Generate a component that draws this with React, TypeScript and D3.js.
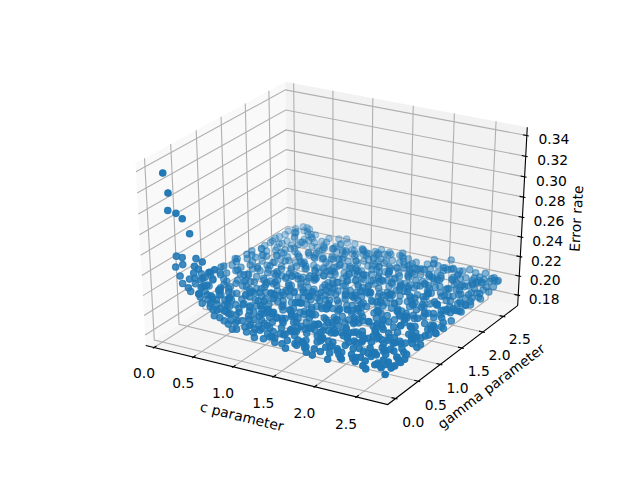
import React from "react";
import * as d3 from "d3";

const width = 640;
const height = 480;

// axis ranges and ticks
const cLim = [-0.047, 2.81];
const gammaLim = [-0.109, 2.796];
const errorLim = [0.1727, 0.3444];
const cTicks = [0, 0.5, 1, 1.5, 2, 2.5];
const gammaTicks = [0, 0.5, 1, 1.5, 2, 2.5];
const errorTicks = [0.18, 0.2, 0.22, 0.24, 0.26, 0.28, 0.3, 0.32, 0.34];

const cValues = [
  .01,.083,.07,.17,.246,.33,.151,.224,.136,.227,.397,.474,.373,.421,.551,.624,.187,.215,.305,.361,.373,.474,.285,.414,.523,2.7,
  .62,.71,.86,1.0,1.12,1.27,1.36,1.52,1.61,1.75,1.88,2.02,2.15,2.31,2.47,2.63,
  .55,.78,.93,1.08,1.2,1.31,1.46,1.58,1.7,1.83,1.97,2.11,2.26,2.38,2.55,2.71,
  .48,.68,.83,.97,1.15,1.24,1.41,1.66,1.79,1.92,2.05,2.2,2.34,2.49,2.62,2.74,
  .34,.52,.66,.9,1.04,1.17,1.33,1.49,1.63,1.8,1.95,2.09,2.28,2.43,2.58,2.74,
  .28,.44,.6,.75,.94,1.11,1.29,1.43,1.57,1.74,1.9,2.0,2.18,2.36,2.52,2.69,
  .22,.39,.57,.81,.99,1.07,1.22,1.39,1.6,1.77,1.86,2.07,2.23,2.41,2.56,2.75,
  .18,.33,.5,.7,.85,1.03,1.19,1.37,1.54,1.68,1.85,2.03,2.17,2.33,2.6,2.72,
  .24,.42,.63,.74,.92,1.13,1.26,1.45,1.62,1.72,1.93,2.12,2.29,2.44,2.53,2.67,
  .15,.36,.54,.69,.88,.98,1.21,1.34,1.51,1.76,1.89,1.99,2.19,2.39,2.51,2.75,
  .2,.31,.47,.72,.8,1.01,1.16,1.3,1.48,1.65,1.82,2.04,2.24,2.35,2.57,2.7,
  .13,.4,.59,.67,.89,1.09,1.25,1.42,1.55,1.71,1.87,2.08,2.21,2.46,2.61,2.75,
  .26,.38,.49,.77,.96,1.06,1.23,1.35,1.59,1.78,1.94,2.1,2.27,2.37,2.54,2.68,
  .17,.29,.56,.73,.84,1.02,1.18,1.4,1.53,1.69,1.84,1.98,2.16,2.42,2.59,2.73,
  .21,.45,.61,.79,.95,1.14,1.28,1.44,1.64,1.73,1.91,2.06,2.25,2.4,2.5,2.66,
  .14,.35,.53,.65,.87,1.05,1.2,1.32,1.47,1.67,1.81,2.01,2.14,2.32,2.56,2.76,
  .25,.41,.58,.76,.91,1.1,1.27,1.38,1.56,1.75,1.96,2.13,2.3,2.45,2.63,2.71,
  .16,.3,.46,.71,.82,1.0,1.15,1.36,1.5,1.66,1.83,2.05,2.2,2.34,2.55,2.74,
  .23,.37,.6,.68,.93,1.08,1.24,1.41,1.58,1.79,1.92,2.02,2.22,2.47,2.62,2.69,
  .12,.43,.55,.78,.86,1.04,1.17,1.33,1.52,1.7,1.88,2.09,2.26,2.38,2.58,2.76,
  .27,.34,.51,.66,.97,1.12,1.29,1.46,1.61,1.74,1.86,2.0,2.18,2.36,2.49,2.72,
  .19,.39,.62,.75,.9,1.01,1.22,1.39,1.54,1.68,1.93,2.07,2.28,2.43,2.6,2.67,
  .15,.32,.48,.7,.83,1.06,1.19,1.31,1.49,1.77,1.85,2.11,2.23,2.41,2.52,2.75,
  .22,.44,.57,.74,.94,1.13,1.26,1.43,1.63,1.72,1.9,2.03,2.17,2.35,2.61,2.7,
  .13,.36,.52,.69,.81,.99,1.16,1.37,1.55,1.65,1.82,1.97,2.15,2.33,2.53,2.75,
  .24,.4,.64,.77,.92,1.07,1.3,1.42,1.59,1.76,1.95,2.12,2.29,2.46,2.57,2.68,
  .18,.28,.5,.72,.88,1.03,1.21,1.35,1.48,1.71,1.87,2.04,2.24,2.39,2.64,2.73,
  .2,.42,.59,.67,.85,1.11,1.25,1.45,1.6,1.78,1.89,2.08,2.19,2.31,2.51,2.75,
  .14,.33,.47,.79,.96,1.09,1.18,1.38,1.51,1.69,1.84,2.01,2.21,2.44,2.59,2.66,
  .26,.38,.56,.73,.89,1.02,1.28,1.44,1.57,1.73,1.94,2.1,2.27,2.37,2.55,2.74,
  .16,.31,.61,.68,.84,1.14,1.23,1.34,1.53,1.67,1.83,2.06,2.16,2.42,2.63,2.71,
  .21,.45,.53,.76,.98,1.05,1.2,1.4,1.62,1.8,1.91,1.99,2.25,2.48,2.5,2.69,
  .12,.35,.49,.71,.87,1.0,1.15,1.32,1.47,1.75,1.81,2.13,2.3,2.34,2.56,2.76,
  .23,.41,.58,.8,.93,1.1,1.27,1.46,1.56,1.66,1.92,2.05,2.2,2.45,2.6,2.72,
  .17,.29,.54,.65,.82,1.04,1.24,1.36,1.64,1.79,1.88,2.02,2.14,2.38,2.54,2.65,
  .25,.37,.6,.74,.91,1.12,1.17,1.41,1.5,1.7,1.96,2.09,2.28,2.4,2.62,2.76,
  .13,.43,.51,.69,.86,1.07,1.29,1.33,1.58,1.74,1.85,2.0,2.23,2.32,2.52,2.7,
  .19,.34,.63,.78,.95,1.01,1.19,1.43,1.6,1.68,1.9,2.11,2.18,2.47,2.58,2.75,
  .15,.39,.46,.72,.83,1.13,1.22,1.37,1.54,1.77,1.83,2.03,2.26,2.36,2.49,2.67,
  .22,.3,.55,.66,.9,1.06,1.26,1.42,1.52,1.71,1.93,2.07,2.15,2.43,2.64,2.73,
  .18,.32,.57,.75,.88,.97,1.16,1.3,1.49,1.64,1.86,2.04,2.24,2.35,2.51,2.69,
  // second pass over the denser parts of the cloud
  .3,.38,.46,.52,.6,.67,.76,.9,1.06,1.22,1.43,1.56,1.84,2.14,2.43,2.57,
  .26,.35,.43,.5,.58,.7,.83,.95,1.1,1.3,1.48,1.69,1.9,2.07,2.29,2.52,
  .32,.4,.55,.63,.77,.88,1.02,1.16,1.35,1.44,1.6,1.78,2.01,2.22,2.4,2.66,
  .2,.47,.62,.74,.85,1.0,1.13,1.25,1.39,1.54,1.73,1.87,2.1,2.32,2.48,2.7,
  .28,.42,.56,.69,.8,.96,1.09,1.24,1.46,1.58,1.7,1.94,2.13,2.27,2.45,2.61,
  .18,.36,.51,.65,.78,.93,1.05,1.2,1.38,1.52,1.67,1.82,1.98,2.19,2.37,2.55,
  .24,.33,.48,.72,.86,1.01,1.18,1.28,1.42,1.62,1.76,1.91,2.05,2.24,2.42,2.64,
  .16,.41,.59,.68,.82,.92,1.12,1.34,1.5,1.65,1.8,1.96,2.16,2.3,2.5,2.72,
  .3,.44,.53,.75,.89,1.04,1.15,1.31,1.44,1.57,1.72,1.89,2.08,2.21,2.39,2.59,
  .21,.37,.64,.71,.84,.97,1.11,1.27,1.41,1.61,1.79,1.93,2.12,2.33,2.54,2.68,
  .14,.34,.49,.6,.79,.91,1.08,1.22,1.36,1.55,1.68,1.85,2.03,2.18,2.44,2.62,
  .27,.39,.57,.73,.87,1.03,1.17,1.33,1.47,1.63,1.77,1.95,2.09,2.28,2.46,2.71,
  .19,.46,.61,.66,.81,.99,1.14,1.26,1.4,1.59,1.74,1.88,2.04,2.25,2.36,2.56,
  .25,.31,.52,.7,.9,1.02,1.19,1.35,1.49,1.6,1.81,1.99,2.17,2.31,2.53,2.65,
  .17,.4,.54,.77,.83,.94,1.1,1.23,1.45,1.64,1.71,1.86,2.06,2.23,2.41,2.74,
  .29,.36,.6,.67,.86,1.06,1.21,1.3,1.43,1.56,1.75,1.92,2.11,2.35,2.47,2.6,
  .15,.43,.5,.74,.92,1.0,1.16,1.37,1.51,1.66,1.84,1.97,2.14,2.26,2.49,2.69,
  .23,.33,.58,.69,.8,.98,1.12,1.29,1.42,1.58,1.78,1.9,2.02,2.2,2.38,2.63,
  .13,.38,.47,.72,.88,1.05,1.2,1.34,1.53,1.62,1.73,1.94,2.1,2.29,2.51,2.73,
  .26,.45,.56,.65,.85,.95,1.13,1.25,1.39,1.57,1.69,1.83,2.01,2.19,2.43,2.58,
  .2,.35,.62,.76,.9,1.07,1.24,1.32,1.46,1.61,1.8,1.98,2.15,2.34,2.55,2.67,
  .16,.42,.53,.68,.82,.96,1.09,1.28,1.44,1.54,1.76,1.87,2.05,2.27,2.44,2.61,
  .28,.31,.59,.71,.87,1.03,1.15,1.31,1.48,1.65,1.79,1.93,2.12,2.3,2.48,2.7,
  .22,.37,.5,.75,.84,.99,1.18,1.36,1.5,1.6,1.72,1.89,2.08,2.24,2.4,2.64,
];

const gammaValues = [
  .15,.12,.12,.12,.12,.12,.12,.12,.12,.12,.12,.12,.12,.12,.12,.12,.12,.12,.12,.12,.12,.12,.12,.12,.12,.08,
  .09,.14,.06,.12,.08,.15,.1,.05,.13,.09,.16,.07,.11,.14,.08,.12,
  .18,.11,.2,.16,.22,.13,.19,.21,.17,.12,.2,.15,.18,.23,.13,.19,
  .24,.28,.21,.26,.19,.27,.23,.18,.25,.29,.22,.26,.2,.27,.24,.21,
  .36,.31,.27,.34,.3,.37,.26,.33,.29,.35,.28,.32,.37,.3,.26,.34,
  .4,.35,.43,.32,.38,.42,.36,.31,.41,.34,.39,.44,.33,.37,.42,.35,
  .47,.42,.38,.5,.44,.37,.49,.41,.46,.39,.51,.43,.48,.38,.45,.41,
  .54,.49,.57,.46,.52,.44,.55,.48,.43,.56,.5,.47,.53,.58,.45,.51,
  .6,.55,.51,.63,.58,.53,.62,.5,.57,.61,.52,.64,.56,.49,.6,.54,
  .67,.61,.57,.7,.64,.59,.71,.56,.66,.62,.69,.58,.65,.72,.6,.68,
  .74,.68,.63,.77,.7,.65,.75,.69,.62,.73,.66,.78,.71,.64,.76,.67,
  .81,.74,.7,.84,.77,.71,.82,.75,.69,.8,.73,.85,.78,.72,.83,.76,
  .87,.81,.76,.9,.84,.78,.88,.83,.75,.86,.79,.91,.82,.77,.89,.8,
  .94,.88,.83,.97,.9,.85,.95,.82,.91,.86,.96,.89,.84,.93,.87,.98,
  1.01,.95,.89,1.04,.97,.91,1.02,.96,.88,1.0,.93,1.05,.98,.9,1.03,.94,
  1.07,1.01,.96,1.11,1.04,.98,1.09,.95,1.06,1.0,1.1,.97,1.05,1.12,.99,1.08,
  1.14,1.08,1.03,1.17,1.1,1.05,1.16,1.02,1.12,1.07,1.18,1.04,1.13,1.09,1.15,1.06,
  1.21,1.15,1.1,1.24,1.17,1.12,1.22,1.09,1.19,1.14,1.25,1.11,1.2,1.16,1.23,1.13,
  1.28,1.21,1.16,1.31,1.24,1.18,1.29,1.15,1.26,1.2,1.32,1.17,1.27,1.22,1.3,1.19,
  1.34,1.28,1.23,1.38,1.3,1.25,1.36,1.22,1.33,1.27,1.39,1.24,1.35,1.29,1.37,1.26,
  1.41,1.35,1.3,1.44,1.37,1.32,1.43,1.29,1.39,1.34,1.45,1.31,1.4,1.36,1.42,1.33,
  1.48,1.42,1.36,1.51,1.44,1.38,1.49,1.35,1.46,1.41,1.52,1.37,1.47,1.43,1.5,1.39,
  1.54,1.48,1.43,1.58,1.5,1.45,1.56,1.42,1.53,1.47,1.59,1.44,1.55,1.49,1.57,1.46,
  1.61,1.55,1.5,1.64,1.57,1.52,1.63,1.49,1.59,1.54,1.65,1.51,1.6,1.56,1.62,1.53,
  1.68,1.62,1.56,1.71,1.64,1.58,1.69,1.55,1.66,1.61,1.72,1.57,1.67,1.63,1.7,1.59,
  1.74,1.68,1.63,1.78,1.7,1.65,1.76,1.62,1.73,1.67,1.79,1.64,1.75,1.69,1.77,1.66,
  1.81,1.75,1.7,1.84,1.77,1.72,1.83,1.69,1.79,1.74,1.85,1.71,1.8,1.76,1.82,1.73,
  1.88,1.82,1.76,1.91,1.84,1.78,1.89,1.75,1.86,1.81,1.92,1.77,1.87,1.83,1.9,1.79,
  1.94,1.88,1.83,1.98,1.9,1.85,1.96,1.82,1.93,1.87,1.99,1.84,1.95,1.89,1.97,1.86,
  2.01,1.95,1.9,2.04,1.97,1.92,2.03,1.89,1.99,1.94,2.05,1.91,2.0,1.96,2.02,1.93,
  2.08,2.02,1.96,2.11,2.04,1.98,2.09,1.95,2.06,2.01,2.12,1.97,2.07,2.03,2.1,1.99,
  2.14,2.08,2.03,2.18,2.1,2.05,2.16,2.02,2.13,2.07,2.19,2.04,2.15,2.09,2.17,2.06,
  2.21,2.15,2.1,2.24,2.17,2.12,2.23,2.09,2.19,2.14,2.25,2.11,2.2,2.16,2.22,2.13,
  2.28,2.22,2.16,2.31,2.24,2.18,2.29,2.15,2.26,2.21,2.32,2.17,2.27,2.23,2.3,2.19,
  2.34,2.28,2.23,2.38,2.3,2.25,2.36,2.22,2.33,2.27,2.39,2.24,2.35,2.29,2.37,2.26,
  2.41,2.35,2.3,2.44,2.37,2.32,2.43,2.29,2.39,2.34,2.45,2.31,2.4,2.36,2.42,2.33,
  2.48,2.42,2.36,2.51,2.44,2.38,2.49,2.35,2.46,2.41,2.52,2.37,2.47,2.43,2.5,2.39,
  2.54,2.48,2.43,2.58,2.5,2.45,2.56,2.42,2.53,2.47,2.59,2.44,2.55,2.49,2.57,2.46,
  2.61,2.55,2.5,2.64,2.57,2.52,2.63,2.49,2.59,2.54,2.65,2.51,2.6,2.56,2.62,2.53,
  2.68,2.62,2.56,2.71,2.64,2.58,2.69,2.55,2.66,2.61,2.72,2.57,2.67,2.63,2.7,2.59,
  2.73,2.67,2.64,2.75,2.69,2.72,2.66,2.74,2.7,2.65,2.76,2.68,2.72,2.67,2.74,2.7,
  .14,.2,.11,.17,.24,.12,.19,.08,.16,.1,.13,.18,.06,.15,.09,.17,
  .3,.22,.27,.33,.21,.29,.18,.26,.23,.2,.31,.16,.24,.28,.19,.25,
  .38,.31,.42,.28,.35,.24,.4,.33,.3,.37,.26,.34,.29,.39,.32,.22,
  .52,.44,.36,.48,.41,.55,.33,.46,.39,.5,.43,.35,.53,.4,.47,.37,
  .62,.54,.49,.58,.66,.45,.6,.52,.42,.57,.48,.64,.44,.56,.5,.61,
  .73,.64,.58,.78,.55,.69,.6,.72,.52,.67,.62,.57,.75,.51,.65,.7,
  .84,.76,.68,.9,.72,.63,.8,.87,.66,.74,.6,.82,.69,.78,.64,.86,
  .98,.88,.79,.93,.71,1.02,.84,.75,.95,.82,.9,.73,.87,1.0,.77,.92,
  1.1,1.0,.9,1.05,.85,1.14,.94,1.08,.82,.97,1.12,.88,1.03,.91,1.07,.86,
  1.22,1.11,1.03,1.17,.96,1.08,1.26,.93,1.14,1.01,1.2,.98,1.09,1.24,1.05,1.16,
  1.35,1.24,1.13,1.29,1.07,1.19,1.38,1.1,1.27,1.16,1.33,1.04,1.21,1.3,1.12,1.25,
  1.46,1.37,1.26,1.4,1.2,1.32,1.5,1.23,1.43,1.29,1.18,1.35,1.48,1.27,1.41,1.31,
  1.58,1.48,1.39,1.53,1.33,1.44,1.62,1.36,1.56,1.41,1.3,1.47,1.6,1.38,1.51,1.42,
  1.7,1.6,1.5,1.66,1.44,1.57,1.73,1.47,1.63,1.53,1.42,1.59,1.72,1.49,1.65,1.54,
  1.82,1.71,1.63,1.77,1.56,1.69,1.85,1.6,1.74,1.66,1.54,1.72,1.83,1.61,1.76,1.67,
  1.93,1.84,1.74,1.89,1.68,1.8,1.97,1.72,1.87,1.77,1.66,1.83,1.95,1.73,1.88,1.79,
  2.05,1.95,1.86,2.0,1.8,1.92,2.08,1.83,1.98,1.89,1.78,1.94,2.07,1.85,2.0,1.91,
  2.17,2.07,1.98,2.12,1.92,2.03,2.2,1.95,2.1,2.0,1.9,2.06,2.18,1.97,2.11,2.02,
  2.28,2.19,2.1,2.24,2.03,2.15,2.32,2.07,2.21,2.12,2.02,2.17,2.3,2.09,2.23,2.14,
  2.4,2.3,2.21,2.35,2.15,2.27,2.44,2.18,2.33,2.24,2.13,2.29,2.42,2.2,2.34,2.26,
  2.5,2.42,2.33,2.47,2.27,2.38,2.54,2.3,2.44,2.35,2.25,2.41,2.52,2.32,2.46,2.37,
  2.6,2.52,2.44,2.57,2.38,2.49,2.64,2.41,2.55,2.46,2.36,2.51,2.62,2.43,2.56,2.48,
  2.7,2.62,2.55,2.67,2.48,2.6,2.74,2.52,2.65,2.57,2.47,2.61,2.71,2.54,2.66,2.58,
  2.75,2.68,2.6,2.73,2.56,2.66,2.77,2.59,2.7,2.63,2.55,2.69,2.74,2.61,2.72,2.64,
];

const errorValues = [
  .332,.315,.298,.297,.293,.280,.255,.255,.244,.248,.257,.255,.249,.247,.246,.250,.236,.229,.235,.242,.237,.239,.226,.222,.233,.187,
  .205,.2,.197,.195,.193,.194,.192,.191,.193,.19,.191,.189,.192,.19,.188,.191,
  .207,.199,.196,.198,.194,.196,.193,.195,.192,.194,.19,.193,.191,.189,.192,.19,
  .21,.202,.2,.197,.199,.195,.197,.194,.196,.192,.195,.191,.193,.196,.19,.192,
  .216,.208,.204,.199,.196,.2,.195,.198,.193,.197,.194,.196,.192,.195,.193,.191,
  .218,.21,.203,.201,.198,.202,.197,.199,.195,.198,.193,.2,.194,.197,.192,.195,
  .214,.209,.206,.2,.203,.197,.201,.196,.199,.194,.198,.195,.2,.193,.197,.192,
  .219,.207,.205,.202,.199,.204,.196,.2,.198,.195,.201,.197,.194,.199,.196,.193,
  .212,.208,.203,.2,.205,.198,.202,.197,.2,.194,.199,.196,.201,.195,.198,.193,
  .217,.21,.204,.206,.199,.202,.197,.203,.195,.2,.196,.198,.194,.201,.197,.195,
  .213,.206,.209,.201,.204,.198,.2,.196,.202,.197,.199,.194,.2,.196,.193,.198,
  .215,.208,.202,.205,.2,.203,.197,.201,.195,.199,.196,.202,.194,.198,.2,.195,
  .211,.207,.204,.199,.202,.197,.204,.198,.2,.195,.201,.196,.199,.194,.197,.2,
  .214,.209,.201,.203,.206,.199,.201,.197,.203,.196,.198,.2,.195,.202,.194,.197,
  .212,.205,.204,.2,.198,.202,.196,.2,.197,.203,.195,.199,.201,.196,.198,.194,
  .216,.207,.203,.205,.2,.198,.203,.197,.201,.195,.2,.197,.199,.194,.202,.196,
  .211,.206,.202,.199,.204,.197,.201,.205,.196,.2,.198,.194,.203,.197,.195,.2,
  .213,.208,.205,.201,.198,.203,.199,.196,.202,.197,.2,.204,.195,.199,.197,.194,
  .21,.207,.2,.204,.199,.197,.202,.198,.196,.203,.195,.2,.198,.201,.194,.197,
  .215,.204,.206,.198,.202,.2,.197,.203,.199,.195,.201,.196,.198,.2,.203,.195,
  .209,.208,.201,.204,.197,.2,.198,.195,.203,.199,.196,.202,.197,.194,.2,.198,
  .212,.205,.199,.203,.2,.206,.196,.201,.198,.202,.197,.199,.203,.195,.198,.2,
  .214,.206,.204,.2,.202,.197,.199,.204,.196,.198,.201,.195,.2,.197,.204,.196,
  .21,.207,.203,.199,.205,.198,.202,.196,.2,.203,.197,.199,.195,.202,.198,.201,
  .213,.204,.202,.206,.199,.201,.197,.203,.198,.2,.196,.204,.199,.197,.195,.202,
  .209,.206,.2,.203,.198,.205,.2,.197,.202,.199,.196,.198,.203,.2,.197,.199,
  .212,.208,.203,.2,.197,.202,.199,.204,.196,.201,.198,.205,.197,.199,.2,.196,
  .208,.205,.201,.204,.2,.197,.203,.198,.2,.196,.202,.199,.197,.204,.198,.201,
  .211,.206,.204,.198,.2,.203,.197,.201,.199,.204,.197,.2,.198,.202,.196,.199,
  .209,.207,.202,.205,.199,.201,.198,.2,.203,.197,.199,.196,.204,.198,.201,.197,
  .212,.204,.2,.203,.197,.199,.202,.205,.198,.2,.196,.203,.199,.197,.2,.198,
  .208,.206,.203,.201,.199,.204,.197,.2,.202,.198,.205,.197,.2,.203,.196,.199,
  .21,.205,.201,.198,.203,.2,.204,.197,.199,.202,.198,.2,.196,.199,.204,.197,
  .207,.208,.204,.2,.202,.197,.199,.203,.2,.196,.201,.198,.204,.197,.199,.2,
  .211,.204,.202,.205,.198,.201,.203,.199,.197,.2,.204,.196,.198,.202,.2,.197,
  .208,.206,.2,.203,.199,.197,.204,.201,.198,.203,.197,.2,.199,.196,.202,.198,
  .21,.207,.204,.2,.202,.205,.198,.2,.203,.197,.199,.201,.197,.204,.198,.2,
  .207,.205,.202,.198,.204,.2,.197,.203,.199,.201,.198,.2,.204,.197,.2,.199,
  .209,.206,.203,.201,.199,.203,.2,.198,.205,.197,.2,.199,.202,.198,.196,.201,
  .206,.208,.2,.204,.198,.202,.199,.206,.197,.201,.198,.203,.2,.197,.199,.2,
  .208,.204,.205,.2,.203,.198,.201,.2,.204,.197,.202,.199,.198,.203,.2,.197,
  .222,.216,.214,.21,.207,.203,.2,.197,.194,.193,.191,.192,.19,.189,.19,.191,
  .224,.218,.212,.211,.206,.202,.199,.196,.195,.192,.194,.191,.193,.19,.192,.189,
  .22,.215,.209,.204,.203,.2,.198,.195,.193,.196,.192,.194,.19,.193,.191,.194,
  .226,.212,.207,.206,.199,.201,.197,.198,.194,.197,.193,.195,.192,.19,.194,.192,
  .219,.213,.208,.203,.2,.199,.196,.2,.198,.193,.196,.192,.197,.195,.191,.193,
  .221,.211,.205,.207,.202,.198,.2,.195,.199,.194,.197,.195,.193,.196,.192,.194,
  .216,.21,.206,.201,.204,.197,.2,.197,.195,.199,.193,.198,.194,.192,.197,.195,
  .218,.209,.204,.203,.199,.202,.196,.199,.201,.194,.197,.193,.199,.196,.193,.198,
  .214,.208,.207,.2,.203,.198,.201,.196,.198,.202,.195,.199,.194,.197,.2,.194,
  .217,.21,.203,.205,.199,.2,.197,.202,.196,.199,.194,.2,.196,.198,.193,.197,
  .215,.206,.204,.202,.198,.203,.196,.2,.197,.195,.201,.194,.198,.2,.195,.196,
  .211,.209,.201,.204,.199,.197,.202,.198,.2,.196,.199,.203,.195,.197,.199,.194,
  .213,.206,.205,.2,.202,.198,.2,.203,.197,.199,.196,.2,.198,.194,.201,.197,
  .21,.208,.202,.199,.197,.204,.198,.2,.196,.202,.199,.195,.2,.198,.196,.203,
  .212,.205,.203,.206,.2,.198,.201,.197,.2,.196,.203,.198,.195,.2,.197,.199,
  .209,.207,.2,.203,.198,.205,.199,.197,.202,.199,.196,.201,.204,.197,.198,.195,
  .211,.204,.204,.199,.201,.197,.203,.2,.198,.204,.197,.199,.196,.202,.199,.197,
  .208,.206,.201,.205,.198,.2,.197,.202,.199,.197,.203,.196,.2,.198,.201,.199,
  .21,.205,.203,.2,.204,.199,.202,.198,.2,.203,.197,.2,.198,.196,.202,.198,
  .207,.207,.2,.203,.198,.201,.204,.197,.199,.2,.198,.202,.197,.204,.199,.196,
  .209,.204,.202,.205,.2,.198,.203,.2,.197,.201,.199,.197,.204,.198,.2,.197,
  .206,.206,.201,.199,.203,.2,.198,.204,.2,.197,.202,.199,.198,.201,.197,.2,
  .208,.205,.204,.201,.199,.202,.197,.2,.203,.198,.2,.204,.199,.197,.198,.201,
  .207,.204,.202,.205,.198,.201,.2,.203,.199,.202,.197,.2,.206,.198,.199,.2,
];

// mplot3d style camera: elev 30, azim -60, eye 10 units from the cube centre
const screenX = d3.scaleLinear().domain([-0.095, 0.09]).range([80, 576]);
const screenY = d3.scaleLinear().domain([-0.095, 0.09]).range([427.2, 57.6]);
const normC = d3.scaleLinear().domain(cLim).range([0, 1]);
const normGamma = d3.scaleLinear().domain(gammaLim).range([0, 1]);
const normError = d3.scaleLinear().domain(errorLim).range([0, 1]);

const lo = -1 / 48;
const hi = 49 / 48;

const project = (x: number, y: number, z: number) => {
  const dx = x - 0.5;
  const dy = y - 0.5;
  const dz = z - 0.5;
  const xv = 0.8660254 * dx + 0.5 * dy;
  const yv = -0.25 * dx + 0.4330127 * dy + 0.8660254 * dz;
  const zv = 0.4330127 * dx - 0.75 * dy + 0.5 * dz;
  const dist = 10 - zv;
  return { px: screenX(xv / dist), py: screenY(yv / dist), depth: zv };
};

type P3 = [number, number, number];
const pathOf = (pts: P3[]) =>
  d3.line()(
    pts.map((p) => {
      const q = project(p[0], p[1], p[2]);
      return [q.px, q.py] as [number, number];
    })
  ) as string;

const points = cValues
  .map((c, i) =>
    project(normC(c), normGamma(gammaValues[i]), normError(errorValues[i]))
  )
  .sort((a, b) => d3.ascending(a.depth, b.depth));
const alpha = d3
  .scaleLinear()
  .domain(d3.extent(points, (d) => d.depth) as [number, number])
  .range([0.3, 1]);

const gridColor = "#b0b0b0";
const font = "'DejaVu Sans'";
const tickIn = 0.2 / 12;
const tickOut = 0.1 / 12;

const AxisLabel = ({ x, y, angle, text }: any) => (
  <text
    transform={`translate(${x},${y}) rotate(${angle})`}
    textAnchor="middle"
    dominantBaseline="central"
    fontSize={13.89}
    fontFamily={font}
    fill="#000"
  >
    {text}
  </text>
);

export default function App() {
  const xMid = project(0.5, lo, lo);
  const yMid = project(hi, 0.5, lo);
  const zMid = project(hi, hi, 0.5);
  const angleOf = (a: P3, b: P3) => {
    const p = project(a[0], a[1], a[2]);
    const q = project(b[0], b[1], b[2]);
    return (Math.atan2(q.py - p.py, q.px - p.px) * 180) / Math.PI;
  };

  return (
    <svg
      width={width}
      height={height}
      style={{ position: "absolute", left: 0, top: 0, background: "#fff" }}
    >
      {/* panes */}
      <path d={pathOf([[lo, lo, lo], [lo, hi, lo], [lo, hi, hi], [lo, lo, hi]]) + "Z"} fill="#f9f9f9" />
      <path d={pathOf([[lo, hi, lo], [hi, hi, lo], [hi, hi, hi], [lo, hi, hi]]) + "Z"} fill="#f2f2f2" />
      <path d={pathOf([[lo, lo, lo], [hi, lo, lo], [hi, hi, lo], [lo, hi, lo]]) + "Z"} fill="#f5f5f5" />

      {/* grid */}
      <g fill="none" stroke={gridColor} strokeWidth={1.11}>
        {cTicks.map((t) => {
          const x = normC(t);
          return <path key={t} d={pathOf([[x, lo, lo], [x, hi, lo], [x, hi, hi]])} />;
        })}
        {gammaTicks.map((t) => {
          const y = normGamma(t);
          return <path key={t} d={pathOf([[hi, y, lo], [lo, y, lo], [lo, y, hi]])} />;
        })}
        {errorTicks.map((t) => {
          const z = normError(t);
          return <path key={t} d={pathOf([[lo, lo, z], [lo, hi, z], [hi, hi, z]])} />;
        })}
      </g>

      {/* axis lines and ticks */}
      <g fill="none" stroke="#000" strokeWidth={1.11}>
        <path d={pathOf([[lo, lo, lo], [hi, lo, lo], [hi, hi, lo], [hi, hi, hi]])} />
        {cTicks.map((t) => {
          const x = normC(t);
          return <path key={t} d={pathOf([[x, lo - tickOut, lo], [x, lo + tickIn, lo]])} />;
        })}
        {gammaTicks.map((t) => {
          const y = normGamma(t);
          return <path key={t} d={pathOf([[hi + tickOut, y, lo], [hi - tickIn, y, lo]])} />;
        })}
        {errorTicks.map((t) => {
          const z = normError(t);
          return <path key={t} d={pathOf([[hi + tickOut, hi, z], [hi - tickIn, hi, z]])} />;
        })}
      </g>

      {/* points */}
      {points.map((d, i) => (
        <circle
          key={i}
          cx={d.px}
          cy={d.py}
          r={3.2}
          fill="#1f77b4"
          stroke="#1f77b4"
          strokeWidth={1.2}
          fillOpacity={alpha(d.depth)}
          strokeOpacity={alpha(d.depth)}
        />
      ))}

      {/* tick labels */}
      <g fontSize={13.89} fontFamily={font} textAnchor="middle" dominantBaseline="central" fill="#000">
        {cTicks.map((t) => {
          const q = project(normC(t), lo - 0.075, lo - 0.113);
          return <text key={t} x={q.px} y={q.py}>{d3.format(".1f")(t)}</text>;
        })}
        {gammaTicks.map((t) => {
          const q = project(hi + 0.075, normGamma(t), lo - 0.113);
          return <text key={t} x={q.px} y={q.py}>{d3.format(".1f")(t)}</text>;
        })}
        {errorTicks.map((t) => {
          const q = project(hi + 0.105, hi + 0.013, normError(t));
          return <text key={t} x={q.px} y={q.py}>{d3.format(".2f")(t)}</text>;
        })}
      </g>

      {/* axis titles */}
      <AxisLabel x={xMid.px - 22} y={xMid.py + 42} angle={angleOf([lo, lo, lo], [hi, lo, lo])} text="c parameter" />
      <AxisLabel x={yMid.px + 36} y={yMid.py + 33} angle={angleOf([hi, lo, lo], [hi, hi, lo])} text="gamma parameter" />
      <AxisLabel x={zMid.px + 54} y={zMid.py} angle={angleOf([hi, hi, lo], [hi, hi, hi])} text="Error rate" />
    </svg>
  );
}
